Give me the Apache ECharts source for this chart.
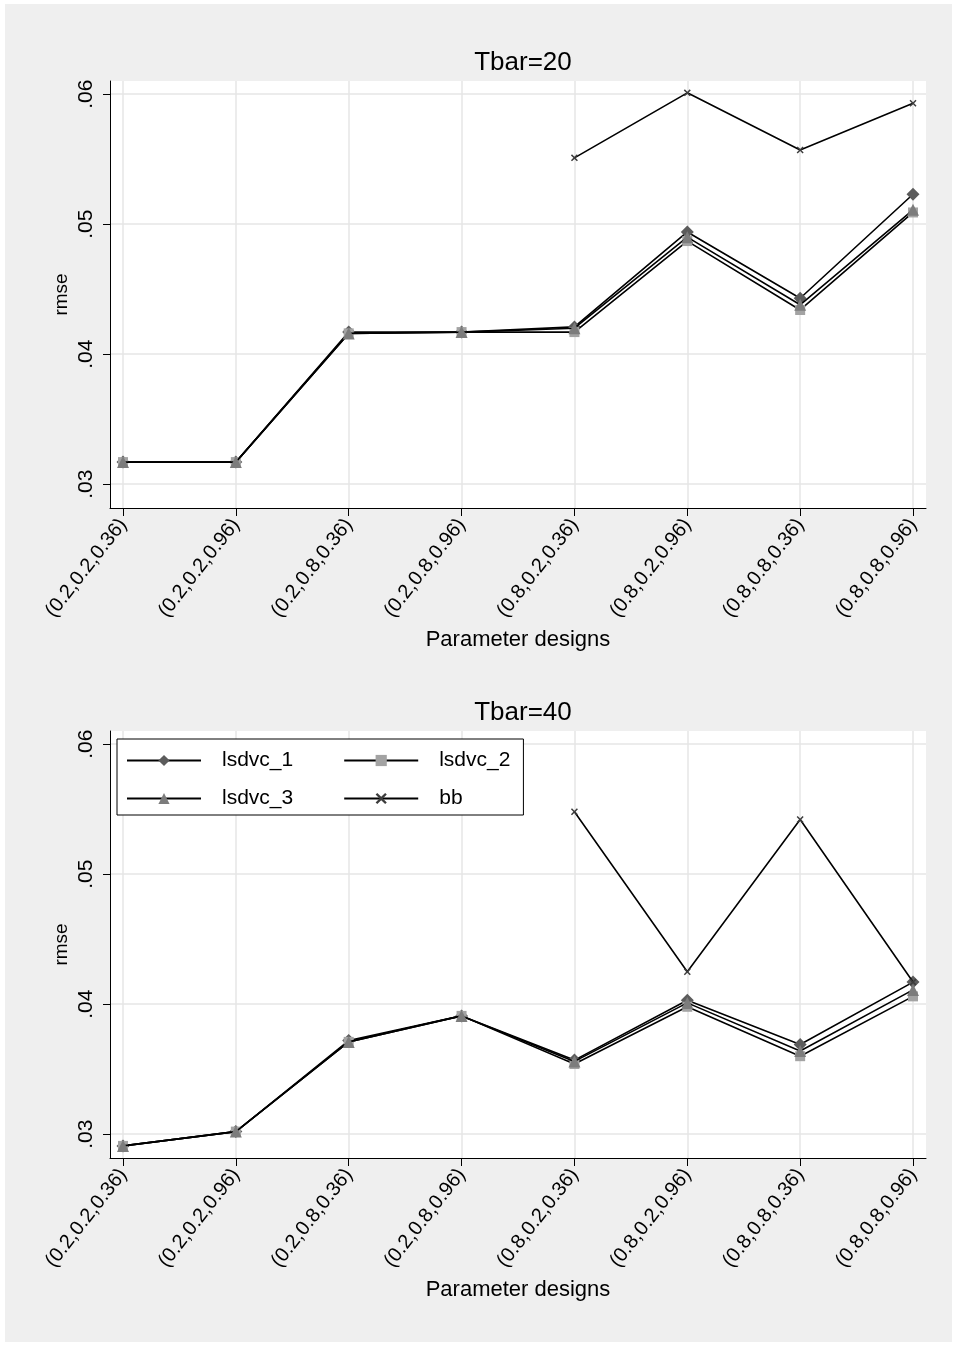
<!DOCTYPE html>
<html>
<head>
<meta charset="utf-8">
<script src="https://cdn.jsdelivr.net/npm/echarts@6/dist/echarts.min.js"></script>
<style>
  html, body { margin: 0; padding: 0; background: #ffffff; }
  #chart {
    width: 956px;
    height: 1346px;
    background: linear-gradient(#efefef, #efefef) no-repeat 5px 4px / 947px 1338px;
  }
</style>
</head>
<body>
<div id="chart"></div>
<script>
// Parameter designs on the horizontal axis
const designs = [
  '(0.2,0.2,0.36)', '(0.2,0.2,0.96)', '(0.2,0.8,0.36)', '(0.2,0.8,0.96)',
  '(0.8,0.2,0.36)', '(0.8,0.2,0.96)', '(0.8,0.8,0.36)', '(0.8,0.8,0.96)'
];

// rmse ticks and their labels
const yTicks = [0.03, 0.04, 0.05, 0.06];
const yTickLabels = ['.03', '.04', '.05', '.06'];

const seriesNames = ['lsdvc_1', 'lsdvc_2', 'lsdvc_3', 'bb'];

// Tbar = 20
const lsdvc1T20 = [0.0317, 0.0317, 0.0417, 0.0417, 0.0421, 0.0494, 0.0443, 0.0523];
const lsdvc2T20 = [0.0317, 0.0317, 0.0416, 0.0417, 0.0417, 0.0487, 0.0434, 0.0509];
const lsdvc3T20 = [0.0317, 0.0317, 0.0416, 0.0417, 0.0420, 0.0490, 0.0438, 0.0511];
const bbT20     = [null, null, null, null, 0.0551, 0.0601, 0.0557, 0.0593];

// Tbar = 40
const lsdvc1T40 = [0.0291, 0.0302, 0.0372, 0.0391, 0.0357, 0.0403, 0.0369, 0.0417];
const lsdvc2T40 = [0.0291, 0.0302, 0.0371, 0.0391, 0.0354, 0.0398, 0.0360, 0.0406];
const lsdvc3T40 = [0.0291, 0.0302, 0.0371, 0.0391, 0.0356, 0.0401, 0.0364, 0.0411];
const bbT40     = [null, null, null, null, 0.0548, 0.0425, 0.0542, 0.0417];

const FONT = "'Liberation Sans', Arial, Helvetica, sans-serif";
const designIdx = designs.map((_, i) => i);

// small "x" marker
const crossPath = 'path://M0,1.5L1.5,0L5,3.5L8.5,0L10,1.5L6.5,5L10,8.5L8.5,10L5,6.5L1.5,10L0,8.5L3.5,5Z';

const markers = {
  lsdvc_1: { symbol: 'diamond', size: 13, color: '#5c5c5c' },
  lsdvc_2: { symbol: 'rect', size: 10, color: '#a3a3a3' },
  lsdvc_3: { symbol: 'triangle', size: 12, color: '#7c7c7c' },
  bb:      { symbol: crossPath, size: 7, color: '#3c3c3c' }
};

const panels = [
  { title: 'Tbar=20', top: 81, values: [lsdvc1T20, lsdvc2T20, lsdvc3T20, bbT20] },
  { title: 'Tbar=40', top: 731, values: [lsdvc1T40, lsdvc2T40, lsdvc3T40, bbT40] }
];

const GRID_LEFT = 110, GRID_WIDTH = 816, GRID_HEIGHT = 427;
const gridLineStyle = { color: '#e6e6e6', width: 1.5 };
const textBase = { color: '#000', fontFamily: FONT };

const grid = [], xAxis = [], yAxis = [], series = [], title = [];

panels.forEach((p, g) => {
  grid.push({
    left: GRID_LEFT, top: p.top, width: GRID_WIDTH, height: GRID_HEIGHT,
    show: true, backgroundColor: '#ffffff', borderWidth: 0,
    containLabel: false, outerBoundsMode: 'none'
  });
  title.push({
    text: p.title, left: GRID_LEFT + GRID_WIDTH / 2, top: p.top - 36, textAlign: 'center',
    textStyle: Object.assign({ fontSize: 26, fontWeight: 'normal' }, textBase)
  });
  xAxis.push({
    gridIndex: g, type: 'value', min: -0.115, max: 7.115,
    axisLine: { show: true, onZero: false, lineStyle: { color: '#000', width: 1 } },
    axisTick: { show: true, customValues: designIdx, length: 8, lineStyle: { color: '#000', width: 1 } },
    axisLabel: Object.assign({
      customValues: designIdx, formatter: v => designs[Math.round(v)],
      rotate: 52, margin: 13, fontSize: 20
    }, textBase),
    splitLine: { show: true, lineStyle: gridLineStyle },
    name: 'Parameter designs', nameLocation: 'middle', nameGap: 121, nameMoveOverlap: false,
    nameTextStyle: Object.assign({ fontSize: 22 }, textBase)
  });
  yAxis.push({
    gridIndex: g, type: 'value', min: 0.02817, max: 0.06101,
    axisLine: { show: true, onZero: false, lineStyle: { color: '#000', width: 1 } },
    axisTick: { show: true, customValues: yTicks, length: 7, lineStyle: { color: '#000', width: 1 } },
    axisLabel: Object.assign({
      customValues: yTicks,
      formatter: v => yTickLabels[yTicks.findIndex(t => Math.abs(t - v) < 1e-9)],
      rotate: 90, margin: 13, fontSize: 21
    }, textBase),
    splitLine: { show: true, lineStyle: gridLineStyle },
    name: 'rmse', nameLocation: 'middle', nameGap: 39, nameRotate: 90, nameMoveOverlap: false,
    nameTextStyle: Object.assign({ fontSize: 19 }, textBase)
  });
  seriesNames.forEach((name, k) => {
    const m = markers[name];
    const pts = [];
    p.values[k].forEach((v, i) => { if (v !== null) pts.push([i, v]); });
    series.push({
      name, type: 'line', xAxisIndex: g, yAxisIndex: g,
      data: pts,
      symbol: m.symbol, symbolSize: m.size, showSymbol: true, showAllSymbol: true,
      lineStyle: { color: '#000', width: 1.6 },
      itemStyle: { color: m.color },
      emphasis: { disabled: true },
      silent: true, animation: false, z: 2 + k
    });
  });
});

const chart = echarts.init(document.getElementById('chart'), null, { renderer: 'canvas' });
chart.setOption({
  backgroundColor: 'transparent',
  animation: false,
  title, grid, xAxis, yAxis, series,
  legend: {
    left: 117, top: 739, width: 420, orient: 'horizontal',
    padding: [11, 13, 6, 9],
    borderColor: '#000', borderWidth: 1, backgroundColor: '#ffffff',
    itemWidth: 74, itemHeight: 14, itemGap: 17,
    selectedMode: false,
    textStyle: Object.assign({ fontSize: 21, lineHeight: 18 }, textBase),
    data: [
      { name: 'lsdvc_1', textStyle: { padding: [0, 33, 0, 16] } },
      { name: 'lsdvc_2', textStyle: { padding: [0, 0, 0, 16] } },
      { name: 'lsdvc_3', textStyle: { padding: [0, 33, 0, 16] } },
      { name: 'bb', textStyle: { padding: [0, 0, 0, 16] } }
    ]
  }
});
</script>
</body>
</html>
